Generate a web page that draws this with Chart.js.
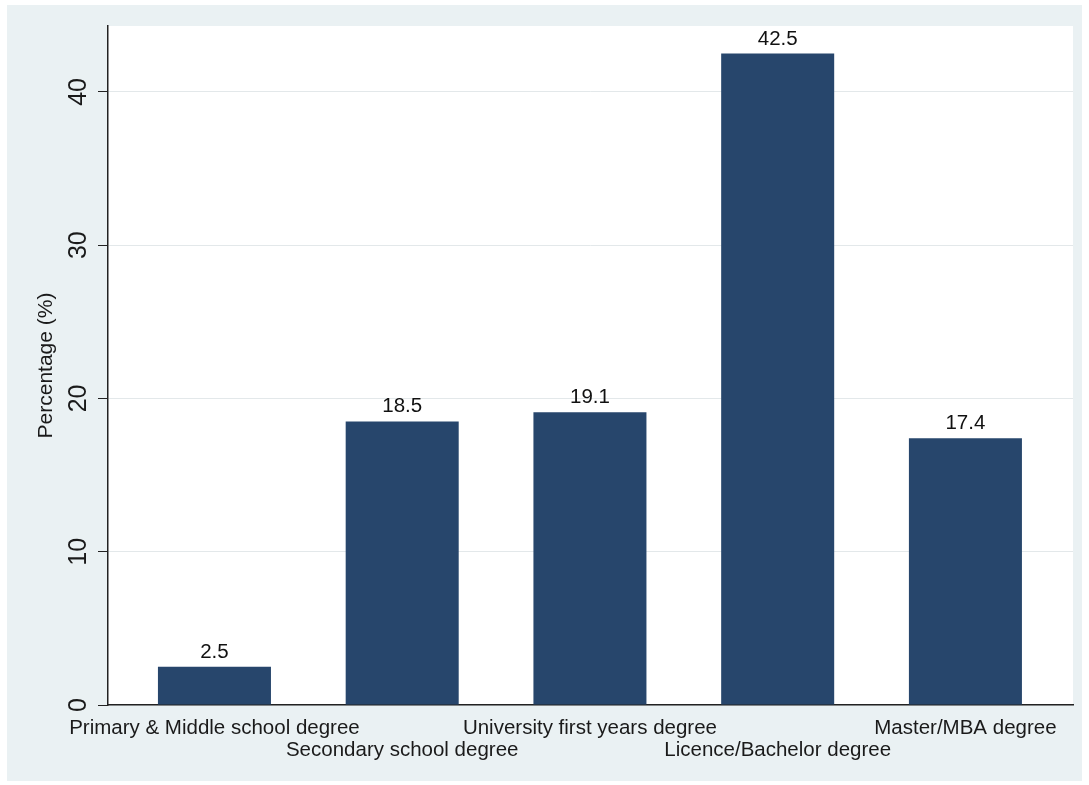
<!DOCTYPE html>
<html>
<head>
<meta charset="utf-8">
<script src="https://cdn.jsdelivr.net/npm/chart.js@4"></script>
<style>
  html, body { margin: 0; padding: 0; background: #ffffff; }
  #chart { display: block; }
</style>
</head>
<body>
<canvas id="chart" width="1089" height="785"></canvas>
<script>
// data
const degreeLabels = [
    'Primary & Middle school degree',
    'Secondary school degree',
    'University first years degree',
    'Licence/Bachelor degree',
    'Master/MBA degree'
];
const percentValues = [2.5, 18.5, 19.1, 42.5, 17.4];
const yTickValues = [0, 10, 20, 30, 40];

const FONT = '"Liberation Sans", Arial, Helvetica, sans-serif';
const BAR_COLOR = '#27466c';
const BG_COLOR = '#eaf1f3';

// outer stata-like background + white plot region
const backdrop = {
    id: 'backdrop',
    beforeDraw(chart) {
        const ctx = chart.ctx;
        const a = chart.chartArea;
        ctx.save();
        ctx.fillStyle = '#ffffff';
        ctx.fillRect(0, 0, chart.width, chart.height);
        ctx.fillStyle = BG_COLOR;
        ctx.fillRect(7, 5, chart.width - 14, chart.height - 9);
        ctx.fillStyle = '#ffffff';
        ctx.fillRect(a.left, a.top, a.right - a.left, a.bottom - a.top);
        ctx.restore();
    }
};

// value labels above each bar
const barValues = {
    id: 'barValues',
    afterDatasetsDraw(chart) {
        const ctx = chart.ctx;
        const meta = chart.getDatasetMeta(0);
        ctx.save();
        ctx.font = '20.5px ' + FONT;
        ctx.fillStyle = '#111111';
        ctx.textAlign = 'center';
        ctx.textBaseline = 'alphabetic';
        meta.data.forEach((bar, i) => {
            ctx.fillText(percentValues[i].toFixed(1), bar.x, bar.y - 9);
        });
        ctx.restore();
    }
};

new Chart(document.getElementById('chart'), {
    type: 'bar',
    data: {
        datasets: [{
            data: percentValues.map((v, i) => ({ x: i, y: v })),
            backgroundColor: BAR_COLOR,
            borderWidth: 0,
            categoryPercentage: 1,
            barPercentage: 0.602
        }]
    },
    options: {
        responsive: false,
        devicePixelRatio: 1,
        animation: false,
        layout: { padding: { left: 7, top: 26, right: 16, bottom: 4 } },
        plugins: {
            legend: { display: false },
            tooltip: { enabled: false }
        },
        scales: {
            x: {
                type: 'linear',
                offset: false,
                min: -0.567,
                max: 4.573,
                afterBuildTicks: (scale) => {
                    scale.ticks = degreeLabels.map((d, i) => ({ value: i }));
                },
                afterFit: (scale) => { scale.height = 76; },
                grid: { display: false, drawTicks: false, offset: false },
                border: { display: true, color: '#222222', width: 1.5 },
                ticks: {
                    autoSkip: false,
                    maxRotation: 0,
                    minRotation: 0,
                    padding: 12,
                    color: '#1a1a1a',
                    font: { family: FONT, size: 20.5, lineHeight: 1.08 },
                    callback: (v) => {
                        const label = degreeLabels[v];
                        // stagger the long category names on two rows
                        return v % 2 === 0 ? [label] : ['', label];
                    }
                }
            },
            y: {
                min: 0,
                max: 44.3,
                afterBuildTicks: (scale) => {
                    scale.ticks = yTickValues.map(v => ({ value: v }));
                },
                afterFit: (scale) => { scale.width = 101; },
                grid: {
                    color: '#e3e8ea',
                    lineWidth: 1,
                    tickColor: '#222222',
                    tickLength: 10
                },
                border: { display: true, color: '#222222', width: 1.5 },
                ticks: {
                    minRotation: 90,
                    maxRotation: 90,
                    crossAlign: 'center',
                    padding: 5,
                    color: '#1a1a1a',
                    font: { family: FONT, size: 25 }
                },
                title: {
                    display: true,
                    text: 'Percentage (%)',
                    color: '#1a1a1a',
                    font: { family: FONT, size: 21 },
                    padding: { top: 27, bottom: 0 }
                }
            }
        }
    },
    plugins: [backdrop, barValues]
});
</script>
</body>
</html>
